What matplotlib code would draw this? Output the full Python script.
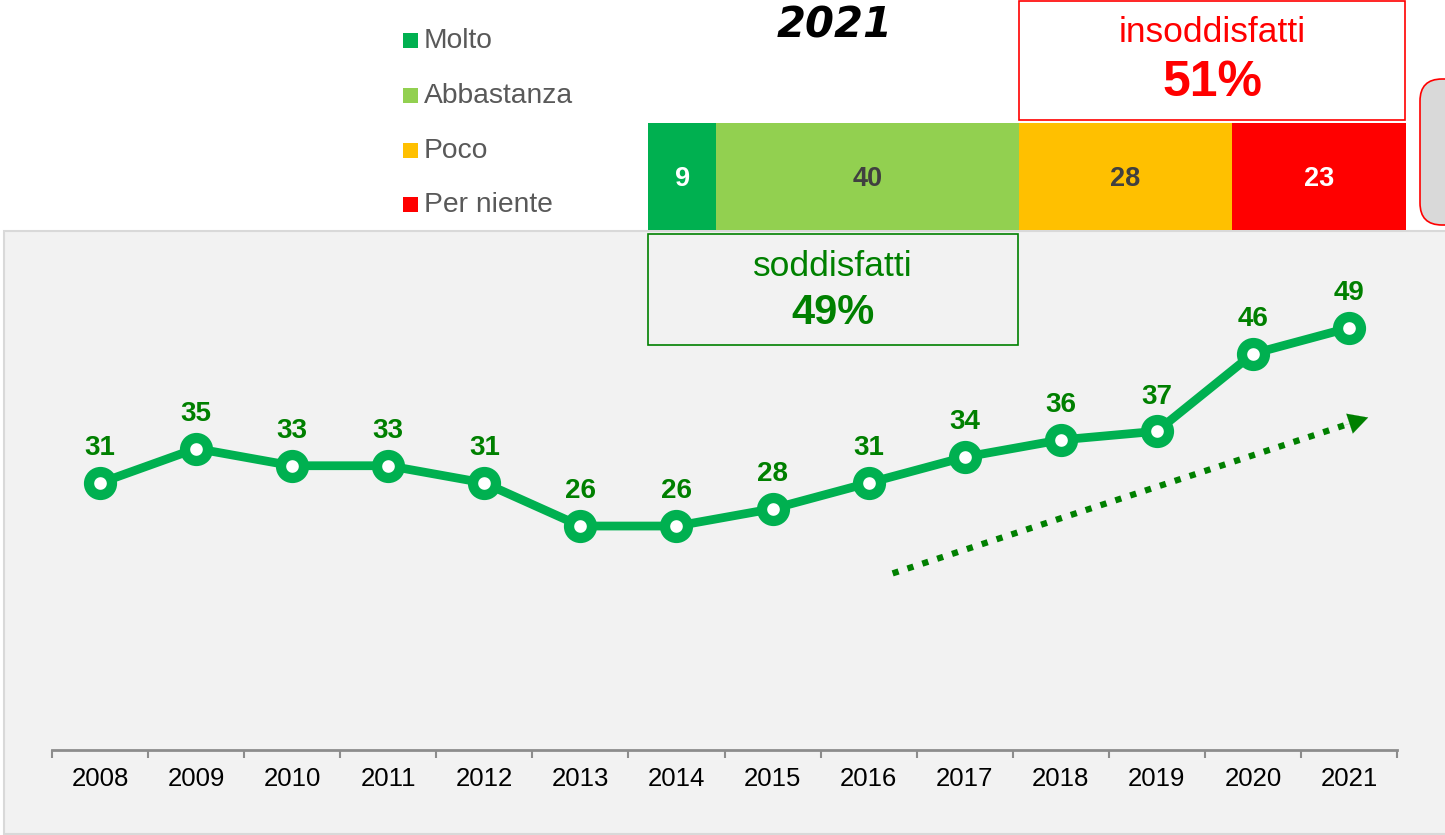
import matplotlib.pyplot as plt
from matplotlib.patches import Rectangle, FancyBboxPatch

years = ["2008", "2009", "2010", "2011", "2012", "2013", "2014",
         "2015", "2016", "2017", "2018", "2019", "2020", "2021"]
soddisfatti = [31, 35, 33, 33, 31, 26, 26, 28, 31, 34, 36, 37, 46, 49]

cat_labels = ["Molto", "Abbastanza", "Poco", "Per niente"]
cat_values = [9, 40, 28, 23]
cat_colors = ["#00b050", "#92d050", "#ffc000", "#ff0000"]
cat_text_colors = ["white", "#404040", "#404040", "white"]

# trend arrow (category index, value)
trend_start = (8.25, 20.5)
trend_end = (13.2, 38.6)

W, H = 1445, 835
plt.rcParams['font.family'] = ['Liberation Sans', 'DejaVu Sans']

fig = plt.figure(figsize=(W / 100, H / 100), dpi=100)

# overlay axes in pixel coordinates (y down)
bg = fig.add_axes([0, 0, 1, 1])
bg.set_xlim(0, W)
bg.set_ylim(H, 0)
bg.axis("off")

# grey panel behind the line chart
bg.add_patch(Rectangle((4, 231), 1460, 603, facecolor="#f2f2f2",
                       edgecolor="#d9d9d9", lw=1.5))

# grey rounded box on the far right (cut by the figure edge)
bg.add_patch(FancyBboxPatch((1420, 79), 80, 146,
                            boxstyle="round,pad=0,rounding_size=22",
                            facecolor="#d9d9d9", edgecolor="#ff0000", lw=1.2))

# legend
leg_y = [41, 96, 151, 205]
for lab, col, y in zip(cat_labels, cat_colors, leg_y):
    bg.add_patch(Rectangle((403, y - 8), 15, 15, facecolor=col, edgecolor="none"))
    bg.text(424, y, lab, fontsize=20.3, color="#595959", va="center", ha="left")

# title
bg.text(835, 25, "2021", fontsize=30, fontweight="bold", fontstyle="italic",
        family="DejaVu Sans", ha="center", va="center", color="black")

# insoddisfatti / soddisfatti boxes
bg.add_patch(Rectangle((1019, 1), 386, 119, facecolor="white",
                       edgecolor="#ff0000", lw=1.2))
bg.text(1212, 32, "insoddisfatti", fontsize=25.5, color="#ff0000",
        ha="center", va="center")
bg.text(1212, 83, f"{cat_values[2] + cat_values[3]}%", fontsize=36,
        fontweight="bold", color="#ff0000", ha="center", va="center")

bg.add_patch(Rectangle((648, 234), 370, 111, facecolor="none",
                       edgecolor="#008000", lw=1.2))
bg.text(833, 267, "soddisfatti", fontsize=25.5, color="#008000",
        ha="center", va="center")
bg.text(833, 313, f"{cat_values[0] + cat_values[1]}%", fontsize=30,
        fontweight="bold", color="#008000", ha="center", va="center")

# stacked bar for 2021
bar = fig.add_axes([648 / W, (H - 230) / H, 758 / W, 107 / H])
left = 0
for v, col, tc in zip(cat_values, cat_colors, cat_text_colors):
    bar.barh(0, v, left=left, color=col, height=1.0, edgecolor="none")
    bar.text(left + v / 2, -0.02, str(v), ha="center", va="center",
             fontsize=19.5, fontweight="bold", color=tc)
    left += v
bar.set_xlim(0, 100)
bar.set_ylim(-0.5, 0.5)
bar.axis("off")

# line chart
ax = fig.add_axes([52 / W, (H - 750) / H, 1345 / W, 603 / H])
ax.patch.set_alpha(0)
x = list(range(len(years)))
ax.plot(x, soddisfatti, color="#00b050", lw=6.3, marker="o", ms=16.5,
        mfc="white", mec="#00b050", mew=7.4, zorder=3)
for xi, v in zip(x, soddisfatti):
    ax.annotate(str(v), (xi, v), xytext=(0, 25), textcoords="offset points",
                ha="center", va="center", fontsize=20, fontweight="bold",
                color="#008000")

# trend arrow: dotted body + head
ax.plot([trend_start[0], trend_end[0] - 0.15],
        [trend_start[1], trend_end[1] - 0.55],
        color="#008000", lw=4.5, ls=(0, (1.0, 1.5)), dash_capstyle="butt")
ax.annotate("", xy=trend_end, xytext=(trend_end[0] - 0.3, trend_end[1] - 1.1),
            arrowprops=dict(arrowstyle="-|>,head_length=1.4,head_width=0.75",
                            color="#008000", lw=0.1, shrinkA=0, shrinkB=0))

ax.set_xlim(-0.5, len(years) - 0.5)
ax.set_ylim(0, 70)
ax.set_xticks(x)
ax.set_xticklabels(years, fontsize=18.5, color="black")
ax.set_xticks([i - 0.5 for i in range(len(years) + 1)], minor=True)
ax.tick_params(axis="x", which="major", length=0, pad=12.5)
ax.tick_params(axis="x", which="minor", length=6, width=1.5, color="#8c8c8c")
ax.set_yticks([])
for s in ["top", "right", "left"]:
    ax.spines[s].set_visible(False)
ax.spines["bottom"].set_color("#8c8c8c")
ax.spines["bottom"].set_linewidth(2)

fig.savefig("out.png", dpi=100)
